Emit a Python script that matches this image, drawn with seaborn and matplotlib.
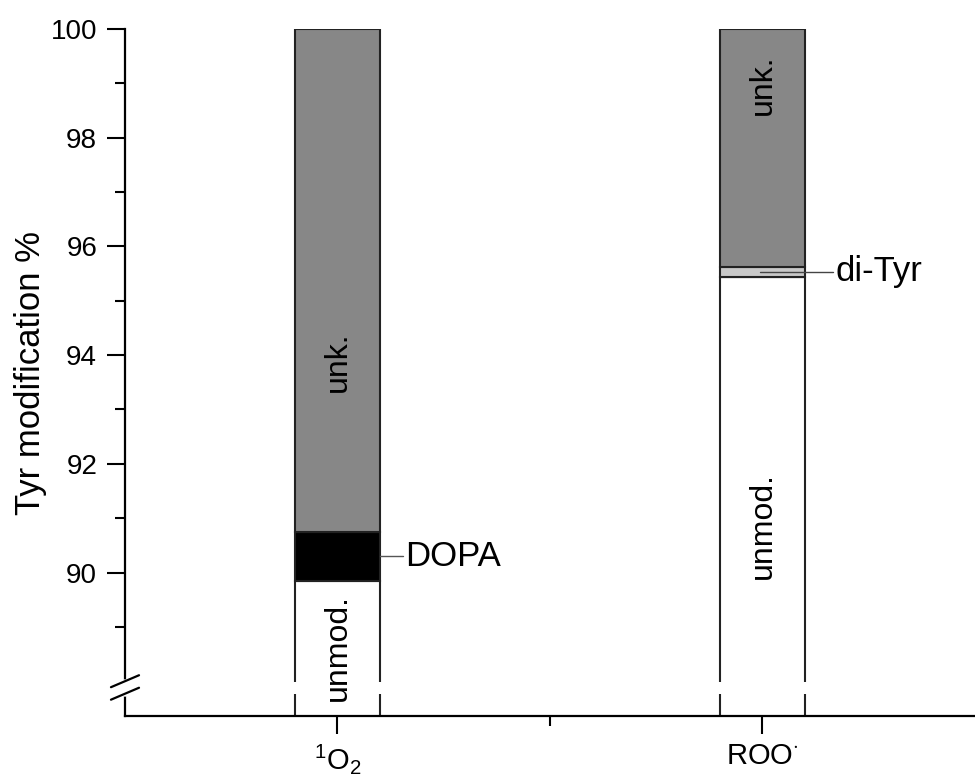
import numpy as np
import seaborn as sns
import matplotlib.pyplot as plt

# data
categories = ['1O2', 'ROO']
tick_labels = [r'$^{1}$O$_{2}$', r'ROO$^{\cdot}$']
unmod = [89.85, 95.44]
dopa = [0.89, 0.0]
dityr = [0.0, 0.18]
unk = [9.26, 4.38]

sns.set_style('ticks')
plt.rcParams['font.family'] = ['Liberation Sans', 'DejaVu Sans']
plt.rcParams['mathtext.fontset'] = 'custom'
plt.rcParams['mathtext.rm'] = 'Liberation Sans'
plt.rcParams['mathtext.it'] = 'Liberation Sans:italic'
for k in ['text.color', 'axes.labelcolor', 'xtick.color', 'ytick.color']:
    plt.rcParams[k] = 'black'

fig = plt.figure(figsize=(9.75, 7.82), dpi=100)
ax = fig.add_axes([0.1282, 0.0844, 0.8718, 0.8785])

edge = '#222222'
segments = [(unmod, 'white'), (dopa, 'black'), (dityr, '#c8c8c8'), (unk, '#878787')]
bottom = np.zeros(len(categories))
for vals, col in segments:
    sns.barplot(x=categories, y=vals, bottom=bottom, width=0.2, color=col,
                saturation=1, edgecolor=edge, linewidth=1.5, errorbar=None, ax=ax)
    bottom = bottom + np.array(vals)

ax.set_xlim(-0.5, 1.5)
ax.set_ylim(87.36, 100)
ax.set_yticks(np.arange(90, 101, 2))
ax.set_yticks(np.arange(89, 100, 2), minor=True)
ax.set_xticks([0, 1])
ax.set_xticks([0.5], minor=True)
ax.set_xticklabels(tick_labels)
ax.tick_params(axis='y', which='major', labelsize=20, length=13, width=1.5, pad=7)
ax.tick_params(axis='y', which='minor', length=7, width=1.5)
ax.tick_params(axis='x', which='major', labelsize=21, length=13, width=1.5, pad=6)
ax.tick_params(axis='x', which='minor', length=7, width=1.5)
sns.despine(ax=ax)
for s in ['left', 'bottom']:
    ax.spines[s].set_linewidth(1.6)
    ax.spines[s].set_color('black')

ax.set_ylabel('Tyr modification %', fontsize=25)
ax.yaxis.set_label_coords(-0.092, 0.5)

# axis break: gap through the bars and the y spine
gap_lo, gap_hi = 87.765, 87.985
for i in range(len(categories)):
    ax.fill_between([i - 0.115, i + 0.115], gap_lo, gap_hi, color='white', lw=0, zorder=3)
trans = ax.get_yaxis_transform()
ax.plot([0, 0], [gap_lo, gap_hi], color='white', lw=4, transform=trans, clip_on=False, zorder=5)
dx, dy = 0.0165, 0.11
for yc in [88.0, 87.77]:
    ax.plot([-dx, dx], [yc - dy, yc + dy], color='black', lw=1.6, transform=trans,
            clip_on=False, zorder=6)

# labels inside bars
txt = dict(rotation=90, ha='center', va='center', fontsize=23, zorder=7)
ax.text(0, 93.87, 'unk.', **txt)
ax.text(0, 88.61, 'unmod.', **txt)
ax.text(1, 98.97, 'unk.', **txt)
ax.text(1, 90.87, 'unmod.', **txt)

# callouts
ax.plot([0.1, 0.155], [90.3, 90.3], color='#555555', lw=1, zorder=4)
ax.text(0.16, 90.3, 'DOPA', fontsize=25, ha='left', va='center')
ax.plot([0.995, 1.167], [95.53, 95.53], color='#444444', lw=1, zorder=4)
ax.text(1.171, 95.53, 'di-Tyr', fontsize=25, ha='left', va='center')

fig.savefig('out.png', dpi=100)
